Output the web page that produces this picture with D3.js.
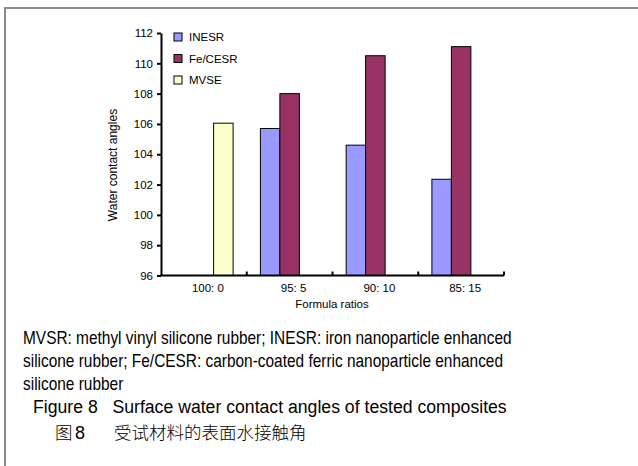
<!DOCTYPE html>
<html>
<head>
<meta charset="utf-8">
<script src="https://cdn.jsdelivr.net/npm/d3@7"></script>
<style>
  body { margin: 0; background: #fff; }
  svg { display: block; font-family: Arial, 'Liberation Sans', sans-serif; }
</style>
</head>
<body>
<svg width="638" height="466"></svg>
<script>
'use strict';

// data
var categories = ['100: 0', '95: 5', '90: 10', '85: 15'];
var seriesNames = ['INESR', 'Fe/CESR', 'MVSE'];
var seriesColors = ['#9999ff', '#993366', '#ffffcc'];
var inesr = [null, 105.7, 104.6, 102.35];
var fecesr = [null, 108.0, 110.5, 111.1];
var mvse = [106.05, null, null, null];
var yTicks = [96, 98, 100, 102, 104, 106, 108, 110, 112];

var svg = d3.select('svg');

// outer frame (top + left only)
svg.append('path')
    .attr('d', 'M5,466 L5,8 L638,8')
    .attr('fill', 'none')
    .attr('stroke', '#8a8a8a')
    .attr('stroke-width', 2);

var x0 = d3.scaleBand().domain(categories).range([161, 504]);
var x1 = d3.scaleBand().domain(seriesNames).range([0, x0.bandwidth()]).paddingOuter(0.7);
var y = d3.scaleLinear().domain([96, 112]).range([275.5, 33]);

var allSeries = [inesr, fecesr, mvse];
var bars = [];
allSeries.forEach(function (vals, si) {
    vals.forEach(function (v, ci) {
        if (v !== null) bars.push({cat: categories[ci], name: seriesNames[si], value: v, color: seriesColors[si]});
    });
});

// bars
svg.append('g')
    .selectAll('rect')
    .data(bars)
    .enter()
    .append('rect')
    .attr('x', function (d) { return x0(d.cat) + x1(d.name); })
    .attr('y', function (d) { return y(d.value); })
    .attr('width', x1.bandwidth())
    .attr('height', function (d) { return y(96) - y(d.value); })
    .attr('fill', function (d) { return d.color; })
    .attr('stroke', '#000')
    .attr('stroke-width', 1);

// y axis
var yAxis = svg.append('g')
    .attr('transform', 'translate(161,0)')
    .call(d3.axisLeft(y).tickValues(yTicks).tickSize(4).tickSizeOuter(0).tickPadding(4));
yAxis.select('.domain').attr('stroke-width', 2);
yAxis.selectAll('.tick line').attr('stroke-width', 2);
yAxis.selectAll('text').attr('font-size', '11.5px').attr('fill', '#000').attr('font-family', 'Arial, Liberation Sans');

// x axis line
svg.append('line')
    .attr('x1', x0.range()[0] - 1).attr('x2', x0.range()[1])
    .attr('y1', y(96)).attr('y2', y(96))
    .attr('stroke', '#000').attr('stroke-width', 2);

// x ticks at category boundaries (pointing up)
svg.append('g')
    .selectAll('line')
    .data(categories)
    .enter()
    .append('line')
    .attr('x1', function (d) { return x0(d) + x0.bandwidth(); })
    .attr('x2', function (d) { return x0(d) + x0.bandwidth(); })
    .attr('y1', y(96))
    .attr('y2', y(96) - 4)
    .attr('stroke', '#000').attr('stroke-width', 2);

// x labels
svg.append('g')
    .selectAll('text')
    .data(categories)
    .enter()
    .append('text')
    .text(function (d) { return d; })
    .attr('x', function (d) { return x0(d) + x0.bandwidth() / 2 + 4; })
    .attr('y', 292)
    .attr('text-anchor', 'middle')
    .attr('font-size', '11.5px');

svg.append('text')
    .text('Formula ratios')
    .attr('x', 332)
    .attr('y', 308)
    .attr('text-anchor', 'middle')
    .attr('font-size', '11.5px');

svg.append('text')
    .text('Water contact angles')
    .attr('transform', 'translate(117,165) rotate(-90)')
    .attr('text-anchor', 'middle')
    .attr('font-size', '12px');

// legend
var legend = svg.append('g')
    .selectAll('g')
    .data(seriesNames)
    .enter()
    .append('g')
    .attr('transform', function (d, i) { return 'translate(174,' + (37 + i * 21.5) + ')'; });
legend.append('rect')
    .attr('x', 0).attr('y', -4)
    .attr('width', 8).attr('height', 8)
    .attr('fill', function (d, i) { return seriesColors[i]; })
    .attr('stroke', '#000').attr('stroke-width', 1);
legend.append('text')
    .text(function (d) { return d; })
    .attr('x', 15).attr('y', 4)
    .attr('font-size', '11.5px');

// squeeze a text group horizontally so its first line has the given width
function squeeze(g, x, width) {
    var w = g.select('text').node().getComputedTextLength();
    g.attr('transform', 'translate(' + x + ',0) scale(' + (width / w) + ',1)');
}

// notes
var notes = [
    'MVSR: methyl vinyl silicone rubber; INESR: iron nanoparticle enhanced',
    'silicone rubber; Fe/CESR: carbon-coated ferric nanoparticle enhanced',
    'silicone rubber'
];
var notesG = svg.append('g');
notesG.selectAll('text')
    .data(notes)
    .enter()
    .append('text')
    .text(function (d) { return d; })
    .attr('x', 0)
    .attr('y', function (d, i) { return 344 + i * 23; })
    .attr('font-size', '17.5px');
squeeze(notesG, 23, 489);

var capG = svg.append('g');
capG.append('text')
    .text('Figure 8\u00a0\u00a0\u00a0Surface water contact angles of tested composites')
    .attr('x', 0)
    .attr('y', 413)
    .attr('font-size', '19px');
squeeze(capG, 33, 474);

// chinese caption
var cn = svg.append('text')
    .attr('y', 439)
    .attr('font-family', "'Noto Sans CJK SC', sans-serif")
    .attr('font-weight', 300)
    .attr('font-size', '17.5px');
cn.append('tspan').text('图').attr('x', 55);
cn.append('tspan').text('8').attr('x', 75).attr('font-family', 'Arial, Liberation Sans').attr('font-weight', 400).attr('font-size', '18px');
cn.append('tspan').text('受试材料的表面水接触角').attr('x', 114);
</script>
</body>
</html>
